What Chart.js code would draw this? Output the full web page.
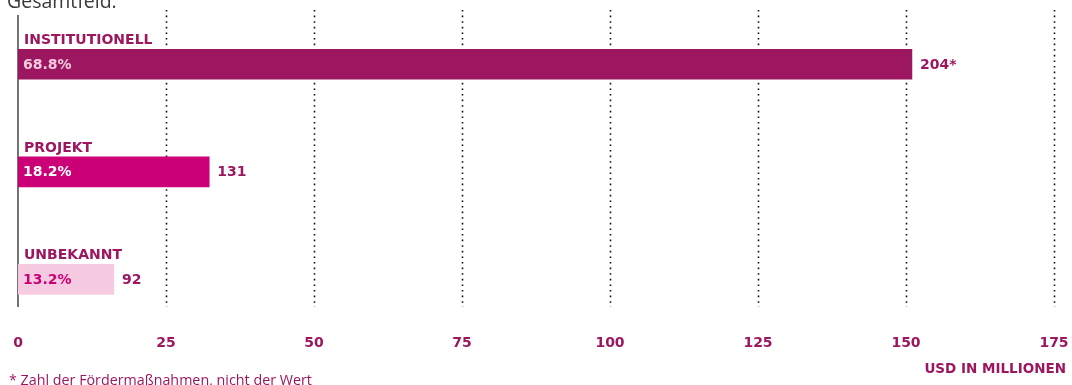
<!DOCTYPE html>
<html>
<head>
<meta charset="utf-8">
<script src="https://cdn.jsdelivr.net/npm/chart.js@4.4.1/dist/chart.umd.min.js"></script>
<style>
  body { margin: 0; background: #fff; }
  #wrap { width: 1072px; height: 385px; position: relative; }
</style>
</head>
<body>
<div id="wrap"><canvas id="fundChart" width="1072" height="385"></canvas></div>
<script>
const categories = ["INSTITUTIONELL", "PROJEKT", "UNBEKANNT"];
const amounts = [151, 32.3, 16.2];
const shares = ["68.8%", "18.2%", "13.2%"];
const counts = ["204*", "131", "92"];
const xTicks = [0, 25, 50, 75, 100, 125, 150, 175];

const barColors = ["#9c1760", "#cc0077", "#f6cbe1"];
const shareColors = ["#f6cbe1", "#ffffff", "#cc0077"];
const textColor = "#9c1760";

const decorPlugin = {
  id: "decor",
  beforeDatasetsDraw(chart) {
    const ctx = chart.ctx;
    const xs = chart.scales.x;
    ctx.save();
    // dotted grid lines
    ctx.strokeStyle = "#111";
    ctx.lineWidth = 1.6;
    ctx.setLineDash([1.6, 4]);
    xTicks.forEach((v) => {
      if (v === 0) return;
      const x = Math.round(xs.getPixelForValue(v)) + 0.5;
      ctx.beginPath();
      ctx.moveTo(x, 10);
      ctx.lineTo(x, 307);
      ctx.stroke();
    });
    ctx.setLineDash([]);
    // axis line
    ctx.strokeStyle = "#444";
    ctx.lineWidth = 1.5;
    const x0 = xs.getPixelForValue(0);
    ctx.beginPath();
    ctx.moveTo(x0, 15);
    ctx.lineTo(x0, 307);
    ctx.stroke();
    ctx.restore();
  },
  afterDatasetsDraw(chart) {
    const ctx = chart.ctx;
    const meta = chart.getDatasetMeta(0);
    ctx.save();
    meta.data.forEach((bar, i) => {
      const top = bar.y - bar.height / 2;
      ctx.textAlign = "left";
      // category above bar
      ctx.font = "bold 14px 'DejaVu Sans'";
      ctx.fillStyle = textColor;
      ctx.textBaseline = "alphabetic";
      ctx.fillText(categories[i], bar.base + 6, top - 5);
      // share inside bar
      ctx.font = "bold 14px 'DejaVu Sans'";
      ctx.fillStyle = shareColors[i];
      ctx.textBaseline = "middle";
      ctx.fillText(shares[i], bar.base + 5, bar.y + 1);
      // count after bar
      ctx.font = "bold 14px 'DejaVu Sans'";
      ctx.fillStyle = textColor;
      ctx.fillText(counts[i], bar.x + 8, bar.y + 1);
    });

    // axis unit
    ctx.font = "bold 13.5px 'DejaVu Sans'";
    ctx.textAlign = "right";
    ctx.textBaseline = "alphabetic";
    ctx.fillStyle = textColor;
    ctx.fillText("USD IN MILLIONEN", 1066, 373);

    // footnote
    ctx.font = "14.3px 'Open Sans'";
    ctx.textAlign = "left";
    ctx.fillText("* Zahl der Fördermaßnahmen, nicht der Wert", 9, 385);

    // cut-off heading above
    ctx.font = "19.5px 'Open Sans'";
    ctx.fillStyle = "#3a3a3a";
    ctx.fillText("Gesamtfeld.", 7, 8);
    ctx.restore();
  }
};

const ctx = document.getElementById("fundChart").getContext("2d");
new Chart(ctx, {
  type: "bar",
  data: {
    labels: categories,
    datasets: [{
      data: amounts,
      backgroundColor: barColors,
      borderWidth: 0,
      barThickness: 30
    }]
  },
  options: {
    indexAxis: "y",
    responsive: false,
    devicePixelRatio: 1,
    animation: false,
    layout: { padding: { left: 18, right: 18, top: 10.5, bottom: 31 } },
    plugins: {
      legend: { display: false },
      tooltip: { enabled: false }
    },
    scales: {
      x: {
        min: 0,
        max: 175,
        afterBuildTicks: (axis) => {
          axis.ticks = xTicks.map((v) => ({ value: v }));
        },
        grid: { display: false, drawTicks: false },
        border: { display: false },
        ticks: {
          padding: 2,
          color: textColor,
          font: { family: "DejaVu Sans", weight: "bold", size: 14 },
          maxRotation: 0,
          autoSkip: false
        }
      },
      y: {
        display: false,
        offset: true,
        grid: { display: false }
      }
    }
  },
  plugins: [decorPlugin]
});
</script>
</body>
</html>
